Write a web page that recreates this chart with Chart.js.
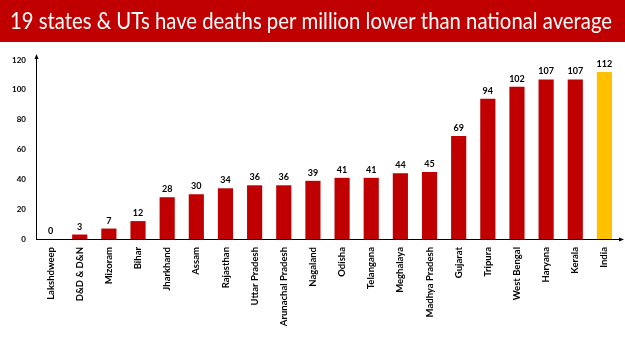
<!DOCTYPE html>
<html><head><meta charset="utf-8">
<script src="https://cdn.jsdelivr.net/npm/chart.js@4"></script>
<style>html,body{margin:0;padding:0;background:#fff;}#wrap{position:relative;width:625px;height:351px;}</style>
</head><body><div id="wrap"><canvas id="c" width="625" height="351"></canvas></div>
<script>
const titleText = "19 states & UTs have deaths per million lower than national average";
const categories = ["Lakshdweep","D&D & D&N","Mizoram","Bihar","Jharkhand","Assam","Rajasthan","Uttar Pradesh","Arunachal Pradesh","Nagaland","Odisha","Telangana","Meghalaya","Madhya Pradesh","Gujarat","Tripura","West Bengal","Haryana","Kerala","India"];
const deathsPerMillion = [0,3,7,12,28,30,34,36,36,39,41,41,44,45,69,94,102,107,107,112];
const yTicks = [0,20,40,60,80,100,120];
const barColors = categories.map(c => c === "India" ? "#FFC000" : "#C00000");
const FONT = "Lato, 'Open Sans', sans-serif";

const decor = {
  id: 'decor',
  beforeDraw(chart) {
    const ctx = chart.ctx;
    ctx.save();
    ctx.fillStyle = '#C00000';
    ctx.fillRect(0, 0, chart.width, 42);
    ctx.font = "23px " + FONT;
    const w = ctx.measureText(titleText).width;
    ctx.translate(10, 29);
    ctx.scale(602 / w, 1);
    ctx.fillStyle = '#fff';
    ctx.textBaseline = 'alphabetic';
    ctx.fillText(titleText, 0, 0);
    ctx.restore();
  },
  afterDatasetsDraw(chart) {
    const ctx = chart.ctx;
    const a = chart.chartArea;
    ctx.save();
    ctx.strokeStyle = '#000';
    ctx.fillStyle = '#000';
    ctx.lineWidth = 1;
    // y axis
    ctx.beginPath();
    ctx.moveTo(a.left + 0.5, a.bottom);
    ctx.lineTo(a.left + 0.5, a.top - 2);
    ctx.stroke();
    ctx.beginPath();
    ctx.moveTo(a.left + 0.5, a.top - 6);
    ctx.lineTo(a.left - 1.5, a.top - 1);
    ctx.lineTo(a.left + 2.5, a.top - 1);
    ctx.closePath(); ctx.fill();
    // x axis
    ctx.beginPath();
    ctx.moveTo(a.left, a.bottom + 0.5);
    ctx.lineTo(a.right + 1, a.bottom + 0.5);
    ctx.stroke();
    ctx.beginPath();
    ctx.moveTo(a.right + 5, a.bottom + 0.5);
    ctx.lineTo(a.right, a.bottom - 1.5);
    ctx.lineTo(a.right, a.bottom + 2.5);
    ctx.closePath(); ctx.fill();
    // value labels
    const meta = chart.getDatasetMeta(0);
    ctx.font = "bold 9px " + FONT;
    ctx.textAlign = 'center';
    ctx.textBaseline = 'alphabetic';
    ctx.fillStyle = '#000';
    meta.data.forEach((bar, i) => {
      ctx.fillText(String(deathsPerMillion[i]), bar.x, bar.y - 5);
    });
    ctx.restore();
  }
};

new Chart(document.getElementById('c'), {
  type: 'bar',
  data: {
    labels: categories,
    datasets: [{ data: deathsPerMillion, backgroundColor: barColors, borderWidth: 0,
      categoryPercentage: 1, barPercentage: 0.52 }]
  },
  options: {
    responsive: false,
    animation: false,
    events: [],
    layout: { padding: { top: 60, right: 6, left: 0, bottom: 0 } },
    plugins: { legend: { display: false }, tooltip: { enabled: false } },
    scales: {
      x: {
        grid: { display: false, drawTicks: false },
        border: { display: false },
        ticks: { minRotation: 90, maxRotation: 90, autoSkip: false, padding: 8, color: '#000',
          font: { family: FONT, size: 9.5, weight: 'bold' } },
        afterFit(s) { s.height = 112; }
      },
      y: {
        min: 0, max: 120,
        afterBuildTicks(s) { s.ticks = yTicks.map(v => ({ value: v })); },
        grid: { display: false, drawTicks: false },
        border: { display: false },
        ticks: { padding: 10, color: '#000', font: { family: FONT, size: 8, weight: 'bold' } },
        afterFit(s) { s.width = 36; }
      }
    }
  },
  plugins: [decor]
});
</script></body></html>
